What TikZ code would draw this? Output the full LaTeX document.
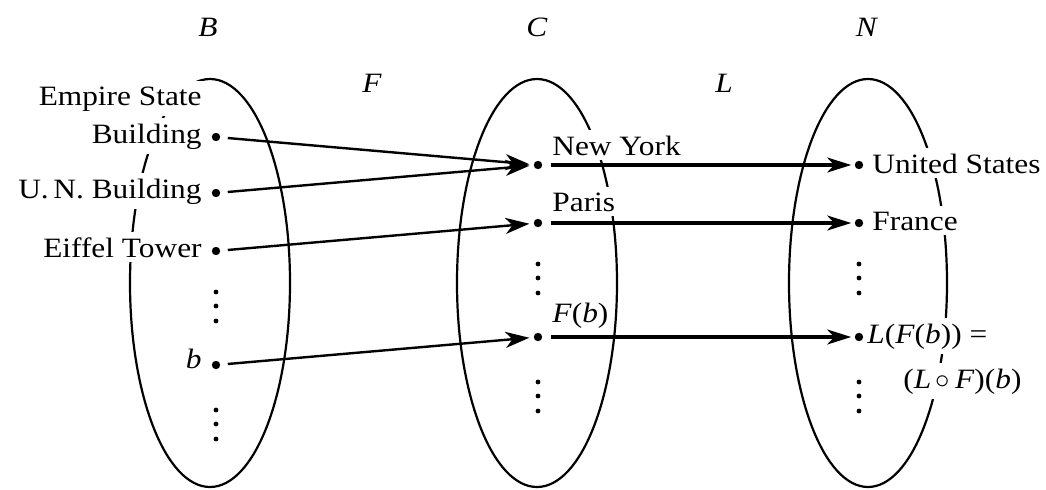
\documentclass[tikz,border=0pt]{standalone}
\usepackage{fontspec}
\setmainfont[FakeStretch=1.12]{Liberation Serif}
\usetikzlibrary{arrows.meta}
\begin{document}
\begin{tikzpicture}[x=0.5pt,y=-0.5pt,
  setline/.style={line width=1.1pt},
  pt/.style={circle,fill=black,inner sep=0pt,minimum size=4.2pt},
  vdot/.style={circle,fill=black,inner sep=0pt,minimum size=2.4pt},
  lab/.style={font=\fontsize{14}{16}\selectfont, inner sep=0pt},
  txt/.style={font=\fontsize{14}{16}\selectfont, fill=white, inner xsep=1pt, inner ysep=2.6pt},
  mapf/.style={line width=1.2pt, -{Stealth[length=12pt,width=8pt,inset=3.5pt]}, shorten >=2pt, shorten <=3.6pt},
  mapl/.style={line width=1.6pt, -{Stealth[length=12pt,width=7.5pt,inset=3.5pt]}, shorten >=1.6pt, shorten <=4pt}]
\useasboundingbox (0,0) rectangle (1046,489);
% sets
\draw[setline] (210,283) ellipse [x radius=80, y radius=204];
\draw[setline] (537,283) ellipse [x radius=80, y radius=204];
\draw[setline] (868,283) ellipse [x radius=79, y radius=204];
% set and map names
\node[lab] (lB) at (208,27) {\textit{B}};
\node[lab] (lC) at (537,27) {\textit{C}};
\node[lab] (lN) at (867,27) {\textit{N}};
\node[lab] (lF) at (372,83) {\textit{F}};
\node[lab] (lL) at (724,83) {\textit{L}};
% labels in B
\node[txt, anchor=base east] (t0) at (204,105) {Empire State};
\node[txt, anchor=base east] (t1) at (204,143) {Building};
\node[txt, anchor=base east] (t2) at (204,198) {U.\,N. Building};
\node[txt, anchor=base east] (t3) at (204,257) {Eiffel Tower};
\node[txt, anchor=base east] (t4) at (204,368) {\textit{b}};
% labels in C
\node[txt, anchor=base west] (u1) at (550,155) {New York};
\node[txt, anchor=base west] (u2) at (550,211) {Paris};
\node[txt, anchor=base west] (u3) at (550,322) {\textit{F}(\textit{b})};
% labels in N
\node[txt, anchor=base west] (v1) at (870,173) {United States};
\node[txt, anchor=base west] (v2) at (870,230) {France};
\node[txt, anchor=base west] (v3) at (865,343) {\textit{L}(\textit{F}(\textit{b})) =};
\node[txt, anchor=base west] (v4) at (901,388) {(\textit{L}\,$\circ$\,\textit{F})(\textit{b})};
% points
\node[pt] (b1) at (216,137) {};
\node[pt] (b2) at (216,193) {};
\node[pt] (b3) at (216,251) {};
\node[pt] (b4) at (216,365) {};
\node[pt] (c1) at (538,165) {};
\node[pt] (c2) at (538,223) {};
\node[pt] (c3) at (538,337) {};
\node[pt] (n1) at (859,165) {};
\node[pt] (n2) at (859,223) {};
\node[pt] (n3) at (859,337) {};
% vertical ellipses
\foreach \y [count=\i] in {292,306,321,410,424,439} \node[vdot] (bd\i) at (216,\y) {};
\foreach \y [count=\i] in {264,278,293,382,396,411} \node[vdot] (cd\i) at (538,\y) {};
\foreach \y [count=\i] in {264,278,293,382,396,411} \node[vdot] (nd\i) at (859,\y) {};
% maps
\draw[mapf] (b1) -- (c1);
\draw[mapf] (b2) -- (c1);
\draw[mapf] (b3) -- (c2);
\draw[mapf] (b4) -- (c3);
\draw[mapl] (c1) -- (n1);
\draw[mapl] (c2) -- (n2);
\draw[mapl] (c3) -- (n3);
\end{tikzpicture}
\end{document}
